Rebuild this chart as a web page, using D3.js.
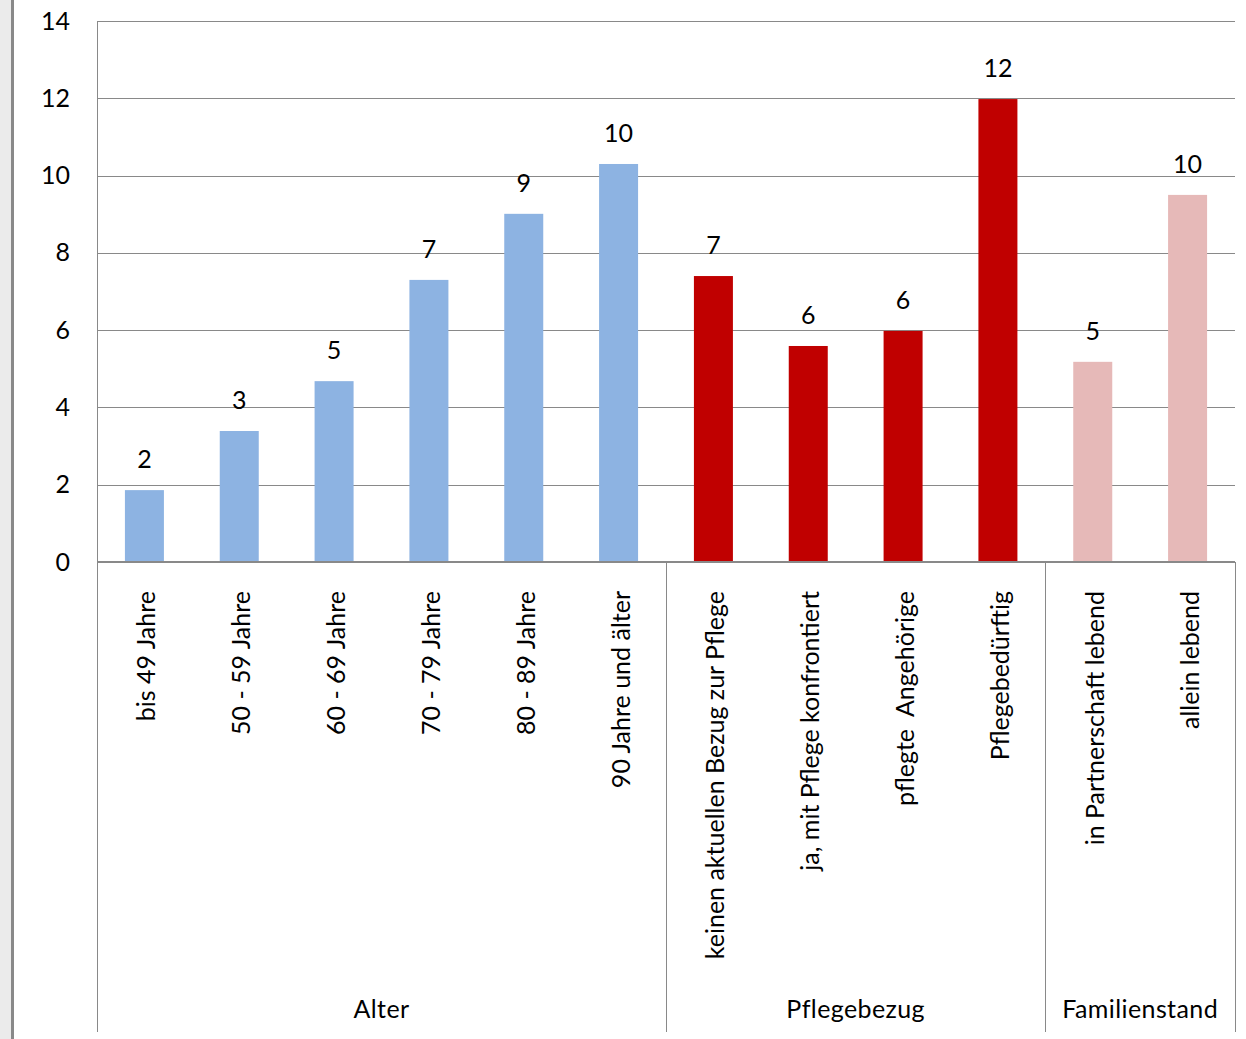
<!DOCTYPE html>
<html>
<head>
<meta charset="utf-8">
<script src="https://cdn.jsdelivr.net/npm/d3@7"></script>
<style>
  html, body { margin: 0; padding: 0; background: #fff; }
  svg { display: block; }
  text { font-family: Lato, "Noto Sans", sans-serif; fill: #000; }
</style>
</head>
<body>
<svg id="chart" width="1246" height="1039"></svg>
<script>
// Category labels along the x axis
const categories = [
  "bis 49 Jahre", "50 - 59 Jahre", "60 - 69 Jahre", "70 - 79 Jahre",
  "80 - 89 Jahre", "90 Jahre und älter",
  "keinen aktuellen Bezug zur Pflege", "ja, mit Pflege konfrontiert",
  "pflegte  Angehörige", "Pflegebedürftig",
  "in Partnerschaft lebend", "allein lebend"
];
// Group each category belongs to
const groups = [
  "Alter", "Alter", "Alter", "Alter", "Alter", "Alter",
  "Pflegebezug", "Pflegebezug", "Pflegebezug", "Pflegebezug",
  "Familienstand", "Familienstand"
];
// Percent values per category
const values = [1.86, 3.39, 4.68, 7.30, 9.01, 10.30, 7.40, 5.59, 5.98, 11.98, 5.18, 9.50];
// Y axis ticks
const yTicks = [0, 2, 4, 6, 8, 10, 12, 14];

const groupColor = { "Alter": "#8db3e2", "Pflegebezug": "#c00000", "Familienstand": "#e6b9b8" };

const svg = d3.select("#chart");
const plotLeft = 97, plotRight = 1235, plotTop = 21, zeroY = 562, plotBottom = 1032;
const fs = 25;

// window frame strip on the left
svg.append("rect").attr("x", 0).attr("y", 0).attr("width", 11).attr("height", 1039).attr("fill", "#ebebeb");
svg.append("rect").attr("x", 11).attr("y", 0).attr("width", 3).attr("height", 1039).attr("fill", "#898989");

const x = d3.scaleBand().domain(categories).range([plotLeft, plotRight]).paddingInner(0).paddingOuter(0);
const y = d3.scaleLinear().domain([0, 14]).range([zeroY, plotTop]);
const barW = 39;

// horizontal gridlines
svg.append("g").selectAll("line").data(yTicks.filter(t => t > 0)).join("line")
  .attr("x1", plotLeft).attr("x2", plotRight)
  .attr("y1", d => Math.round(y(d)) + 0.5).attr("y2", d => Math.round(y(d)) + 0.5)
  .attr("stroke", "#898989").attr("stroke-width", 1);

// y axis via d3.axisLeft, lines hidden; labels only
const yAxis = svg.append("g").attr("transform", `translate(${plotLeft},0)`)
  .call(d3.axisLeft(y).tickValues(yTicks).tickSize(0).tickPadding(27).tickFormat(d3.format("d")));
yAxis.select(".domain").remove();
yAxis.selectAll("text").attr("font-size", fs).attr("font-family", "Lato, 'Noto Sans', sans-serif").attr("fill", "#000");

// bars
svg.append("g").selectAll("rect").data(categories).join("rect")
  .attr("x", d => x(d) + (x.bandwidth() - barW) / 2)
  .attr("width", barW)
  .attr("y", (d, i) => y(values[i]))
  .attr("height", (d, i) => zeroY - y(values[i]))
  .attr("fill", (d, i) => groupColor[groups[i]]);

// value labels
svg.append("g").selectAll("text").data(categories).join("text")
  .attr("x", d => x(d) + x.bandwidth() / 2)
  .attr("y", (d, i) => y(values[i]) - 22)
  .attr("text-anchor", "middle")
  .attr("font-size", fs)
  .text((d, i) => d3.format(".0f")(values[i]));

// left axis line (vertical, full height)
svg.append("line").attr("x1", plotLeft + 0.5).attr("x2", plotLeft + 0.5).attr("y1", plotTop).attr("y2", plotBottom)
  .attr("stroke", "#898989").attr("stroke-width", 1);

// group boundaries
const groupNames = Array.from(new Set(groups));
const groupSpans = groupNames.map(g => {
  const cats = categories.filter((c, i) => groups[i] === g);
  return { name: g, x0: x(cats[0]), x1: x(cats[cats.length - 1]) + x.bandwidth() };
});
svg.append("g").selectAll("line").data(groupSpans.map(s => s.x1)).join("line")
  .attr("x1", d => Math.round(d) + 0.5).attr("x2", d => Math.round(d) + 0.5)
  .attr("y1", zeroY).attr("y2", plotBottom)
  .attr("stroke", "#898989").attr("stroke-width", 1);

// zero baseline
svg.append("line").attr("x1", plotLeft).attr("x2", plotRight).attr("y1", zeroY).attr("y2", zeroY)
  .attr("stroke", "#898989").attr("stroke-width", 2);

// rotated category labels
svg.append("g").selectAll("text").data(categories).join("text")
  .attr("transform", d => `translate(${x(d) + x.bandwidth() / 2 + 1},591) rotate(-90)`)
  .attr("text-anchor", "end")
  .attr("dominant-baseline", "central")
  .attr("font-size", fs)
  .style("white-space", "pre")
  .text(d => d);

// group labels
svg.append("g").selectAll("text").data(groupSpans).join("text")
  .attr("x", d => (d.x0 + d.x1) / 2)
  .attr("y", 1018)
  .attr("text-anchor", "middle")
  .attr("font-size", fs)
  .attr("letter-spacing", 0.4)
  .text(d => d.name);
</script>
</body>
</html>
